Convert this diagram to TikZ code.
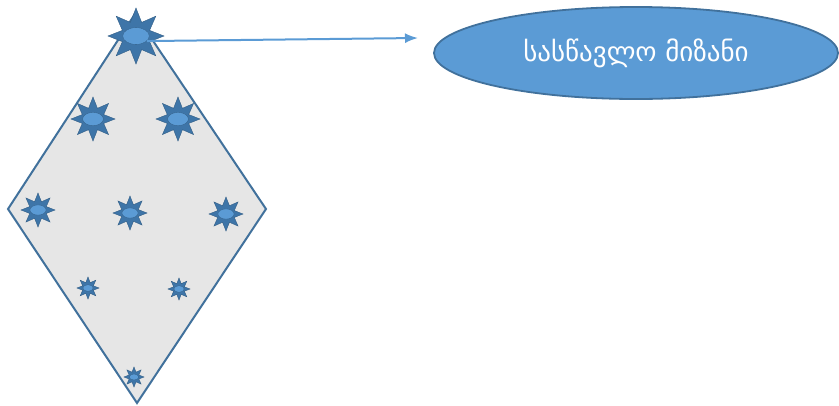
\documentclass[tikz,border=0pt]{standalone}
\usepackage{fontspec}
\newfontfamily\geofont{DejaVu Sans}
\usetikzlibrary{shapes.geometric,arrows.meta}
\definecolor{lineblue}{HTML}{41719C}
\definecolor{fillblue}{HTML}{5B9BD5}
\definecolor{starblue}{HTML}{3E75A8}
\definecolor{kitegray}{HTML}{E6E6E6}
\tikzset{
  sparkle/.style={star, star points=8, star point ratio=1.9, inner sep=0pt,
    fill=starblue, draw=starblue!80!black, line width=0.4pt},
  sparkcore/.style={ellipse, inner sep=0pt, fill=fillblue, draw=starblue!80!black, line width=0.3pt}
}
\begin{document}
\begin{tikzpicture}[x=1pt,y=-1pt]
		\useasboundingbox (0,0) rectangle (839,405);
		% the kite
		\coordinate (kt) at (135,14);
		\coordinate (kl) at (8,209);
		\coordinate (kr) at (266,209);
		\coordinate (kb) at (137,403);
		\draw[fill=kitegray, draw=lineblue, line width=2pt] (kt) -- (kr) -- (kb) -- (kl) -- cycle;
		% stars, largest at the top
		\foreach \name/\xx/\yy/\rr in {s1/136/36/28, s2/93/119/22, s3/178/119/22,
			s4/38/210/17, s5/130/213/17, s6/226/214/17,
			s7/88/288/11, s8/179/289/11, s9/134/377/10}{
			\node[sparkle, minimum size=2*\rr] (\name) at (\xx,\yy) {};
			\node[sparkcore, minimum width=0.95*\rr, minimum height=0.6*\rr] (\name c) at (\xx,\yy) {};
		}
		% goal
		\node[ellipse, fill=fillblue, draw=lineblue, line width=1.8pt, minimum width=404, minimum height=92, inner sep=0pt]
			(goal) at (636,53) {\geofont\fontsize{27}{29}\selectfont\color{white} სასწავლო მიზანი};
		\coordinate (tip) at (418,38);
		\draw[fillblue, line width=2pt, -{Latex[length=13pt,width=10pt]}] (s1c.-25) -- (tip);
	\end{tikzpicture}
\end{document}
